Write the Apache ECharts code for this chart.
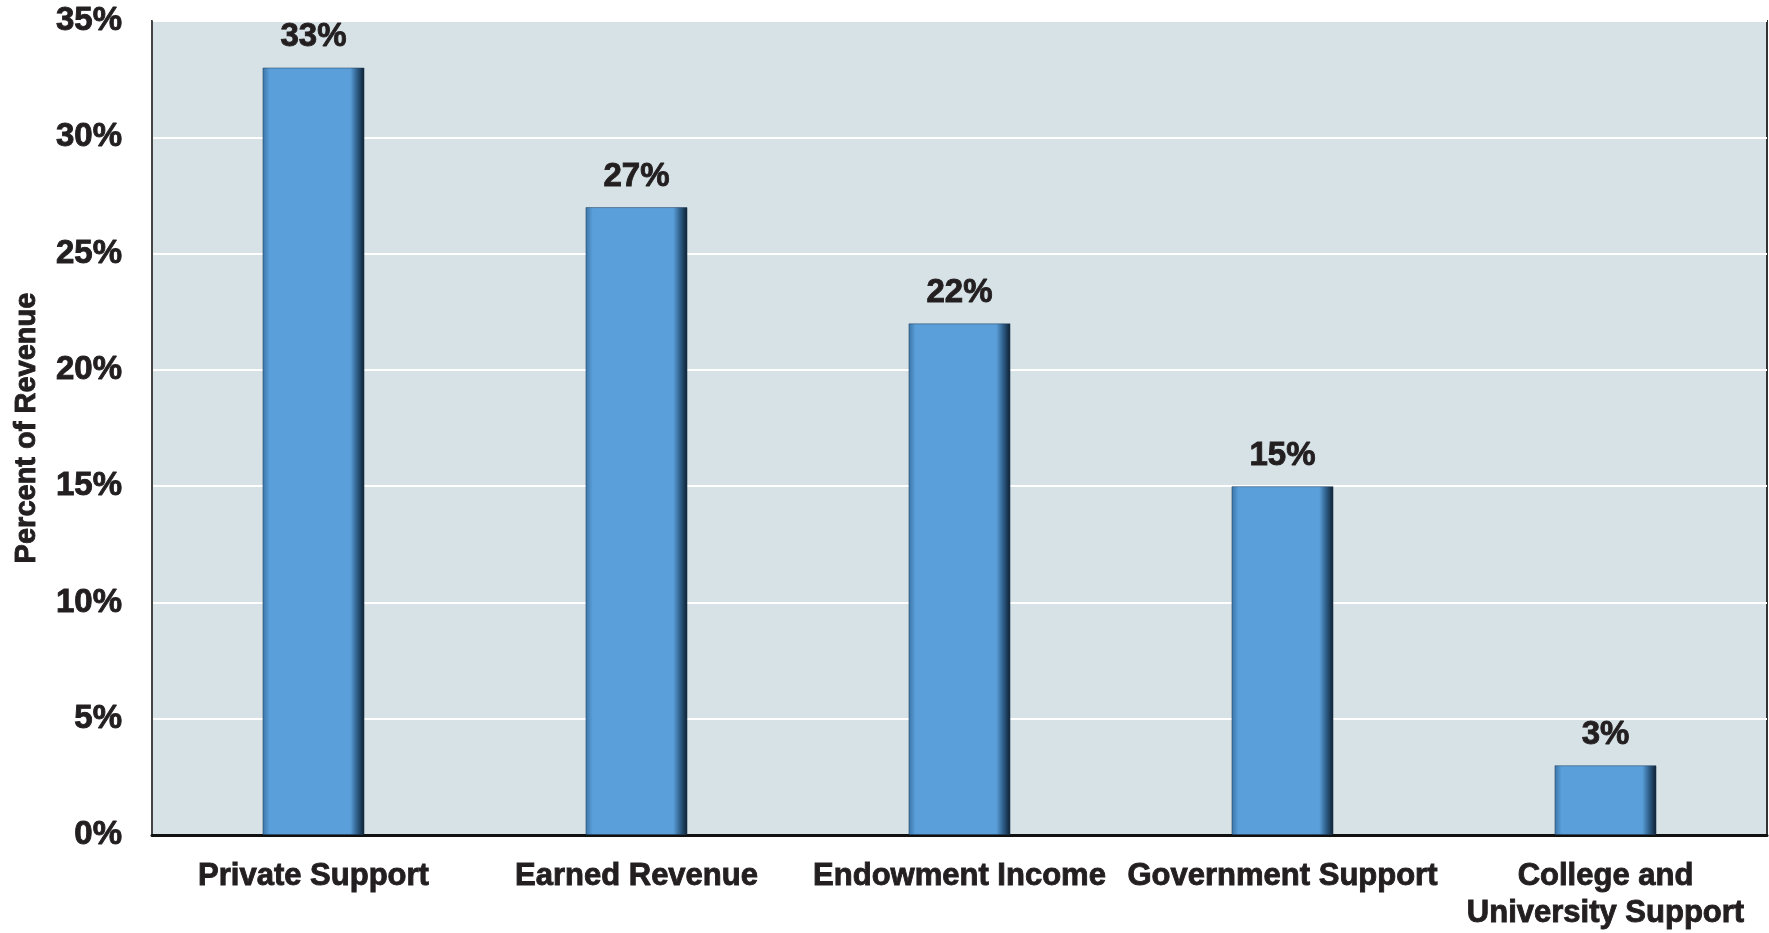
<!DOCTYPE html>
<html><head><meta charset="utf-8">
<script src="https://cdn.jsdelivr.net/npm/echarts@6/dist/echarts.min.js"></script>
<style>html,body{margin:0;padding:0;background:#fff}#c{width:1769px;height:933px}</style>
</head><body><div id="c"></div>
<script>
const categories = ['Private Support', 'Earned Revenue', 'Endowment Income', 'Government Support', 'College and\nUniversity Support'];
const values = [33, 27, 22, 15, 3];
const yTicks = {min: 0, max: 35, interval: 5};
const yAxisName = 'Percent of Revenue';

const FONT = '"Liberation Sans", Arial, sans-serif';
const INK = '#231f20';
const heavy = {color: INK, fontFamily: FONT, fontWeight: 'bold', textBorderColor: INK, textBorderWidth: 0.9};
const chart = echarts.init(document.getElementById('c'), null, {renderer: 'canvas'});
chart.setOption({
  animation: false,
  backgroundColor: '#ffffff',
  grid: {left: 152, right: 2, top: 21, bottom: 98, containLabel: false, outerBoundsMode: 'none',
         show: true, backgroundColor: '#d7e2e6', borderColor: '#333', borderWidth: 2},
  xAxis: {
    type: 'category', data: categories,
    axisLine: {show: true, lineStyle: {color: '#111', width: 3}},
    axisTick: {show: false},
    axisLabel: Object.assign({interval: 0, fontSize: 31, margin: 23, lineHeight: 37}, heavy)
  },
  yAxis: {
    type: 'value', min: yTicks.min, max: yTicks.max, interval: yTicks.interval,
    name: yAxisName, nameLocation: 'middle', nameGap: 111, nameRotate: 90,
    nameTextStyle: Object.assign({fontSize: 29}, heavy),
    axisLine: {show: true, lineStyle: {color: '#444', width: 2}},
    axisTick: {show: false},
    splitLine: {show: true, lineStyle: {color: '#ffffff', width: 2}},
    axisLabel: Object.assign({formatter: '{value}%', fontSize: 33, margin: 30}, heavy)
  },
  series: [{
    type: 'bar', data: values, barWidth: '31.6%',
    itemStyle: {
      color: new echarts.graphic.LinearGradient(0, 0, 1, 0, [
        {offset: 0, color: '#3a73a5'},
        {offset: 0.07, color: '#5a9fd9'},
        {offset: 0.86, color: '#5a9fd9'},
        {offset: 0.93, color: '#2d5c86'},
        {offset: 1, color: '#0d1c2c'}
      ]),
      borderColor: 'rgba(30,60,90,0.5)', borderWidth: 1
    },
    label: Object.assign({show: true, position: 'top', distance: 14, formatter: '{c}%', fontSize: 33}, heavy)
  }]
});
</script></body></html>
